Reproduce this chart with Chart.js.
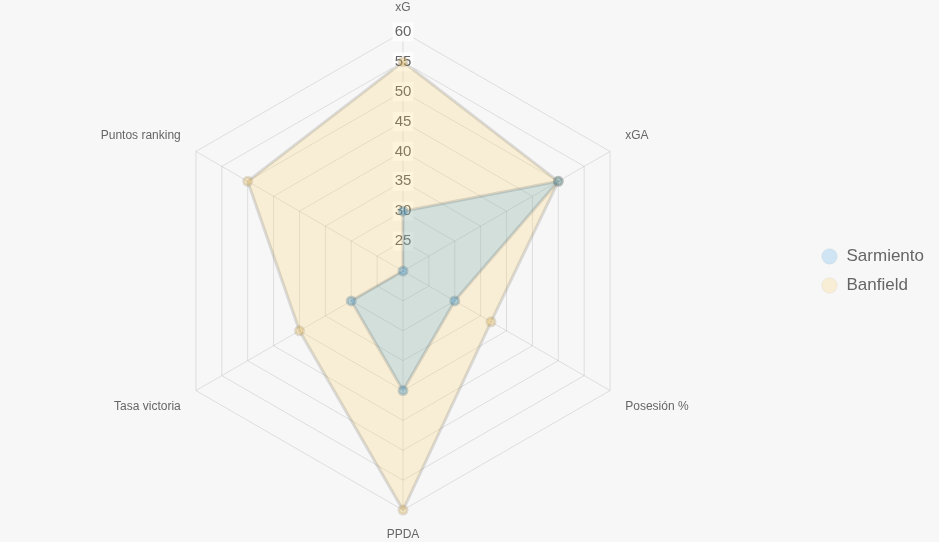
<!DOCTYPE html>
<html lang="es">
<head>
  <meta charset="UTF-8" />
  <title>Sarmiento vs Banfield</title>
  <script src="https://cdn.jsdelivr.net/npm/chart.js"></script>
  <style>
    html, body {
      margin: 0;
      padding: 0;
      background-color: #f7f7f7;
    }
    #wrap {
      width: 939px;
      height: 542px;
    }
  </style>
</head>
<body>
  <div id="wrap">
    <canvas id="radar"></canvas>
  </div>

  <script>
    const metricas = ["xG", "xGA", "Posesión %", "PPDA", "Tasa victoria", "Puntos ranking"];
    const sarmiento = [30, 50, 30, 40, 30, 20];
    const banfield = [55, 50, 37, 60, 40, 50];
    const escalaMin = 20;
    const escalaMax = 60;
    const paso = 5;

    const colores = {
      Sarmiento: "rgba(54, 162, 235, 0.2)",
      Banfield: "rgba(255, 206, 86, 0.2)"
    };

    // la leyenda de la referencia es un poco mas ancha y sus items van algo mas a la derecha
    const leyendaAncha = {
      id: "leyendaAncha",
      beforeInit(chart) {
        const fitOriginal = chart.legend.fit;
        chart.legend.fit = function () {
          fitOriginal.call(this);
          this.width += 8;
        };
        const drawOriginal = chart.legend.draw;
        chart.legend.draw = function () {
          const c = this.ctx;
          c.save();
          c.translate(3, 0);
          drawOriginal.call(this);
          c.restore();
        };
      }
    };

    const ctx = document.getElementById("radar").getContext("2d");

    new Chart(ctx, {
      type: "radar",
      data: {
        labels: metricas,
        datasets: [
          {
            label: "Sarmiento",
            data: sarmiento,
            backgroundColor: colores.Sarmiento,
            borderColor: "rgba(0, 0, 0, 0.12)",
            borderWidth: 3,
            pointBackgroundColor: "rgba(54, 162, 235, 0.3)",
            pointBorderColor: "rgba(90, 120, 130, 0.3)",
            pointRadius: 4
          },
          {
            label: "Banfield",
            data: banfield,
            backgroundColor: colores.Banfield,
            borderColor: "rgba(0, 0, 0, 0.12)",
            borderWidth: 3,
            pointBackgroundColor: "rgba(255, 206, 86, 0.3)",
            pointBorderColor: "rgba(150, 130, 90, 0.25)",
            pointRadius: 4
          }
        ]
      },
      options: {
        responsive: true,
        maintainAspectRatio: false,
        animation: false,
        plugins: {
          legend: {
            position: "right",
            labels: {
              usePointStyle: true,
              boxWidth: 19,
              boxHeight: 11,
              padding: 12,
              color: "#666",
              font: { size: 17, family: "Arial, 'Liberation Sans', sans-serif" },
              generateLabels: (chart) => chart.data.datasets.map((ds, i) => ({
                text: ds.label,
                fillStyle: colores[ds.label],
                strokeStyle: "rgba(0, 0, 0, 0.04)",
                lineWidth: 1,
                pointStyle: "circle",
                fontColor: "#666",
                hidden: !chart.isDatasetVisible(i),
                datasetIndex: i
              }))
            }
          },
          tooltip: { enabled: false }
        },
        scales: {
          r: {
            min: escalaMin,
            max: escalaMax,
            ticks: {
              stepSize: paso,
              color: "#666",
              font: { size: 15, family: "Arial, 'Liberation Sans', sans-serif" }
            },
            pointLabels: {
              color: "#666",
              padding: 8,
              font: { size: 12, family: "Arial, 'Liberation Sans', sans-serif" }
            },
            grid: { color: "rgba(0, 0, 0, 0.1)" },
            angleLines: { color: "rgba(0, 0, 0, 0.1)" }
          }
        }
      },
      plugins: [leyendaAncha]
    });
  </script>
</body>
</html>
